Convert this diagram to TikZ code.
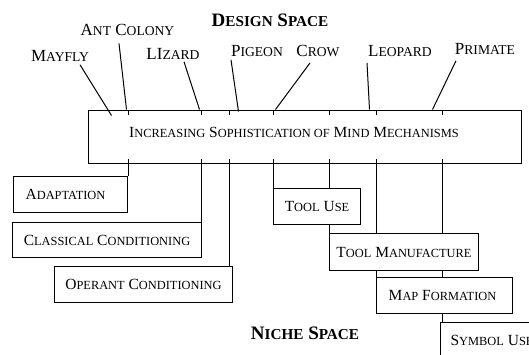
\documentclass[tikz,border=0pt]{standalone}
\usepackage{fontspec}
\setmainfont{Liberation Serif}
\usepackage{graphicx}
\usetikzlibrary{positioning,calc,backgrounds}
\newcommand{\smc}[1]{\scalebox{0.8}{#1}}
\tikzset{
    animal/.style={inner sep=0pt,font=\fontsize{17}{20}\selectfont},
    heading/.style={inner sep=0pt,font=\fontsize{19}{22}\selectfont\bfseries},
    stage/.style={draw,line width=1pt,fill=white,anchor=north west,inner sep=0pt,font=\fontsize{15.5}{18}\selectfont},
    link/.style={line width=1pt}
}
\begin{document}
\begin{tikzpicture}[x=1pt,y=-1pt]
    \useasboundingbox (0,0) rectangle (529,354);
    \clip (0,0) rectangle (529,354);
    % headings
    \node[heading] (design) at (270,20) {D\smc{ESIGN} S\smc{PACE}};
    \node[heading] (niche) at (305,333) {N\smc{ICHE} S\smc{PACE}};
    % animals
    \node[animal] (mayfly) at (60,56) {M\smc{AYFLY}};
    \node[animal] (ant) at (127.5,30) {A\smc{NT} C\smc{OLONY}};
    \node[animal] (lizard) at (173,54) {LI\smc{ZARD}};
    \node[animal] (pigeon) at (257,51) {P\smc{IGEON}};
    \node[animal] (crow) at (318,51) {C\smc{ROW}};
    \node[animal] (leopard) at (400,51) {L\smc{EOPARD}};
    \node[animal] (primate) at (485,49) {P\smc{RIMATE}};
    % the long box
    \node[draw,line width=1pt,minimum width=433,minimum height=53,inner sep=0pt] (mind) at (304.5,136.5) {};
    % niche stages
    \node[stage,minimum width=114,minimum height=36] (adapt) at (13,176) {A\smc{DAPTATION}\hspace*{10pt}};
    \node[stage,minimum width=189,minimum height=35] (classical) at (12,222) {C\smc{LASSICAL} C\smc{ONDITIONING}};
    \node[stage,minimum width=178,minimum height=36] (operant) at (54,266) {O\smc{PERANT} C\smc{ONDITIONING}};
    \node[stage,minimum width=87,minimum height=36] (tooluse) at (273,188) {T\smc{OOL} U\smc{SE}};
    \node[stage,minimum width=149,minimum height=37] (toolmake) at (329,233) {T\smc{OOL} M\smc{ANUFACTURE}};
    \node[stage,minimum width=136,minimum height=36] (mapform) at (376,277) {M\smc{AP} F\smc{ORMATION}\hspace*{4pt}};
    \node[stage,minimum width=120,minimum height=36] (symbol) at (440,322) {\hspace*{8pt}S\smc{YMBOL} U\smc{SE}\hspace*{25pt}};
    % verticals, behind the boxes
    \begin{scope}[on background layer]
        \draw[link] (adapt.north east) -- (adapt.north east |- mind.north);
        \draw[link] ([xshift=-1pt]classical.north east) -- ([xshift=-1pt]classical.north east |- mind.north);
        \draw[link] ([xshift=-4pt]operant.north east) -- ([xshift=-4pt]operant.north east |- mind.north);
        \draw[link] (tooluse.north west) -- (tooluse.north west |- mind.north);
        \draw[link] (toolmake.north west) -- (toolmake.north west |- mind.north);
        \draw[link] (mapform.north west) -- (mapform.north west |- mind.north);
        \draw[link] ([xshift=2pt]symbol.north west) -- ([xshift=2pt]symbol.north west |- mind.north);
    \end{scope}
    \fill[white] ($(mind.north west)+(5,5)$) rectangle ($(mind.south east)+(-5,-5)$);
    \node[inner sep=0pt,font=\fontsize{15.5}{18}\selectfont] (mindtext) at (294,132.5)
        {I\smc{NCREASING} S\smc{OPHISTICATION OF} M\smc{IND} M\smc{ECHANISMS}};
    % animals to the box
    \draw[link] ($(mayfly.south)+(20,3)$) -- ($(mind.north west)+(24,6)$);
    \draw[link] ($(ant.south)+(-8.5,7.5)$) -- ($(mind.north west)+(39,0)$);
    \draw[link] ($(lizard.south)+(11,2)$) -- ($(mind.north west)+(112,0)$);
    \draw[link] ($(pigeon.south)+(-26,3)$) -- ($(mind.north west)+(151,2)$);
    \draw[link] ($(crow.south)+(-8,6)$) -- ($(mind.north west)+(188,0)$);
    \draw[link] ($(leopard.south)+(-33,6)$) -- ($(mind.north west)+(282,0)$);
    \draw[link] ($(primate.south)+(-29,6)$) -- ($(mind.north west)+(345,0)$);
\end{tikzpicture}
\end{document}
